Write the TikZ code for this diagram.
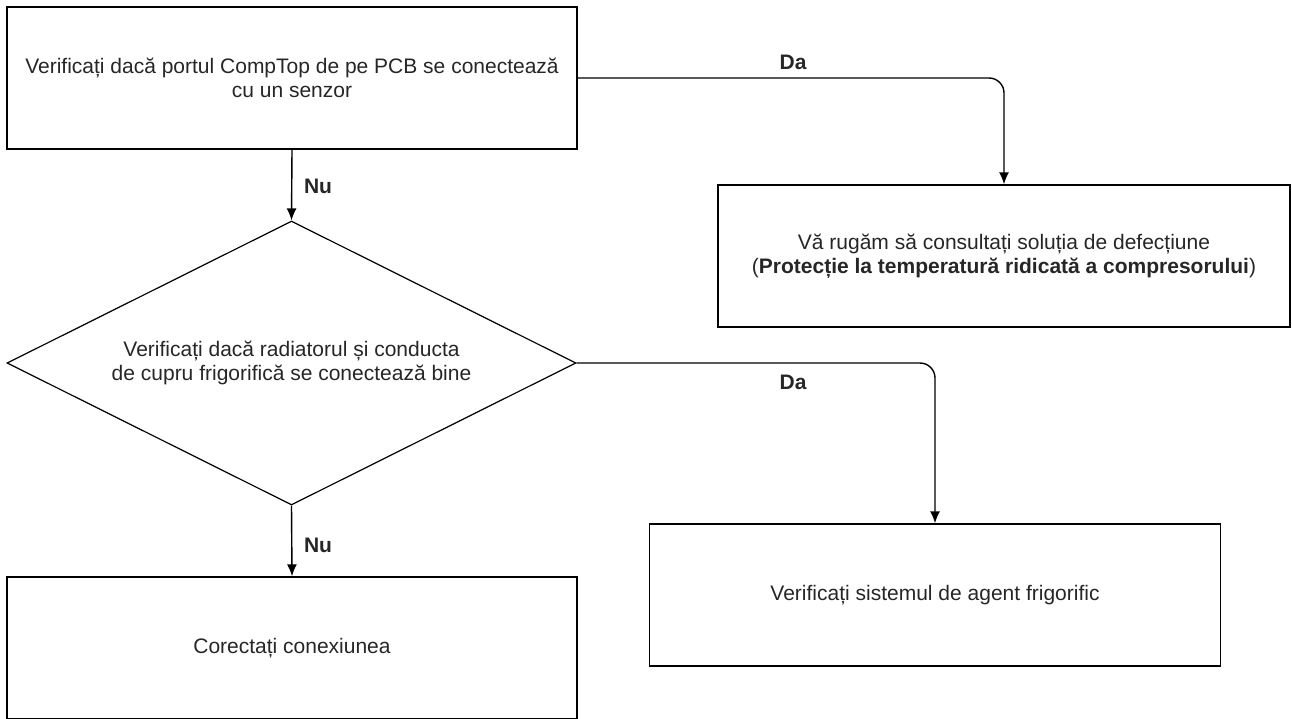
\documentclass[tikz,border=0pt]{standalone}
\usepackage{fontspec}
\setmainfont{Liberation Sans}
\usepackage{tikz}
\usetikzlibrary{shapes.geometric,arrows.meta}
\newcommand{\boxfont}{\fontsize{21}{24}\selectfont}
\tikzstyle{block} = [rectangle, draw, line width=1.4pt, inner sep=0pt,
    align=center, minimum width=570pt, minimum height=142pt]
\tikzstyle{decision} = [diamond, draw, line width=1.2pt, inner sep=0pt, aspect=2,
    align=center, minimum width=569pt, minimum height=284pt]
\tikzstyle{line} = [draw, line width=1.4pt, rounded corners=15pt,
    -{Latex[length=12pt,width=10pt]}]
\tikzstyle{answer} = [font=\boxfont\bfseries]

\begin{document}
\begin{tikzpicture}[x=1pt, y=-1pt,
    every node/.style={font=\boxfont, text=black!85}]
  \useasboundingbox (0,0) rectangle (1292,718);
  \node [block] (port) at (292,78) {Verificați dacă portul CompTop de pe PCB se conectează\\cu un senzor};
  \node [block, minimum width=572pt] (consult) at (1004,256) {Vă rugăm să consultați soluția de defecțiune\\(\textbf{Protecție la temperatură ridicată a compresorului})};
  \node [decision] (pipe) at (291.5,363) {Verificați dacă radiatorul și conducta\\de cupru frigorifică se conectează bine};
  \node [block, minimum width=571pt] (refrig) at (935,595) {Verificați sistemul de agent frigorific};
  \node [block] (fix) at (292,648) {Corectați conexiunea};
  % raspunsuri
  \node [answer] (da1) at (793,62) {Da};
  \node [answer] (nu1) at (318,186) {Nu};
  \node [answer] (da2) at (793,382) {Da};
  \node [answer] (nu2) at (318,545) {Nu};
  \path [line] (port.east) -| (consult.north);
  \path [line] (port.south) -- (pipe.north);
  \path [line] (pipe.east) -| (refrig.north);
  \path [line] (pipe.south) -- (fix.north);
\end{tikzpicture}
\end{document}
